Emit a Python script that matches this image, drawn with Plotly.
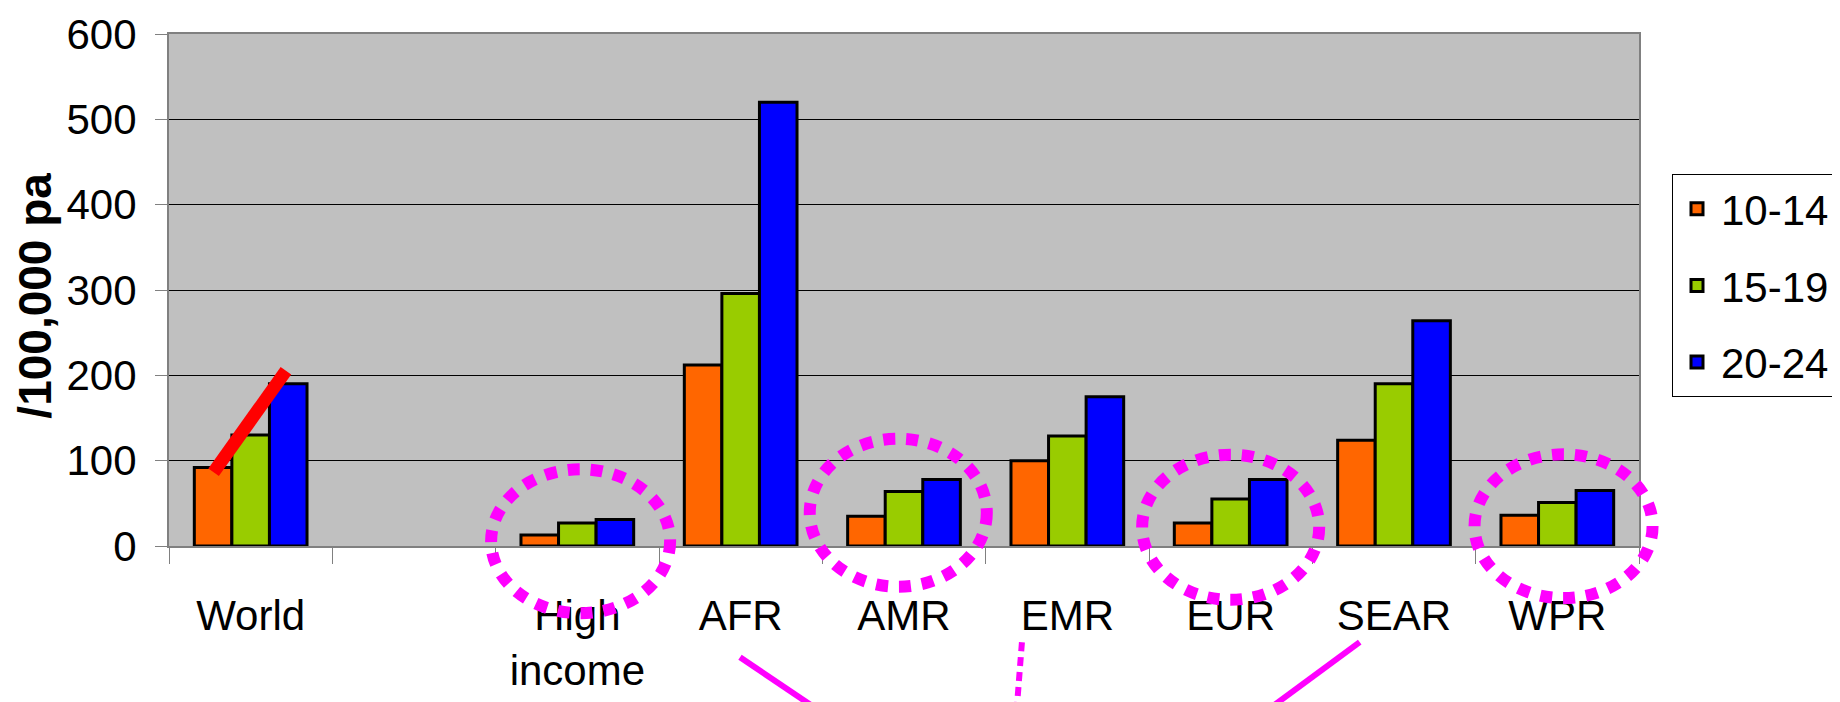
import plotly.graph_objects as go

# ---------------- data ----------------
categories = ["World", " ", "High<br>income", "AFR", "AMR", "EMR", "EUR", "SEAR", "WPR"]
age_groups = ["10-14", "15-19", "20-24"]
rate_10_14 = [92, None, 13, 212, 35, 100, 27, 124, 36]
rate_15_19 = [130, None, 27, 296, 64, 129, 55, 190, 51]
rate_20_24 = [190, None, 31, 520, 78, 175, 78, 264, 65]
y_tick_values = [0, 100, 200, 300, 400, 500, 600]
y_title = "/100,000 pa"

series = [rate_10_14, rate_15_19, rate_20_24]
bar_colors = ["#FF6600", "#99CC00", "#0000FF"]

FONT = "Liberation Sans Narrow, Arial Narrow, Liberation Sans, Arial, sans-serif"
FS = 42
X_RANGE = [-0.5, len(categories) - 0.5]
Y_RANGE = [0, 600]

# page body adds an 8px offset, margins compensate for it
ML, MR, MT, MB = 161, 209, 26, 164
PLOT_W = 1840 - ML - MR


def xp(i):
    """category index -> paper x"""
    return (i - X_RANGE[0]) / (X_RANGE[1] - X_RANGE[0])


def yp(v):
    """value -> paper y"""
    return (v - Y_RANGE[0]) / (Y_RANGE[1] - Y_RANGE[0])


fig = go.Figure()
for name, vals, col in zip(age_groups, series, bar_colors):
    fig.add_trace(go.Bar(
        x=categories, y=vals, name=name, legendgroup=name,
        marker=dict(color=col, line=dict(color="black", width=3)),
        hoverinfo="x+y+name",
    ))

# ---------------- highlight annotations ----------------
MAGENTA = "#FF00FF"
shapes = []
# dotted ellipses (category-index, value) boxes
ellipses = [(1.472, 2.568, -78.7, 89.9),
            (3.423, 4.507, -47.7, 125.7),
            (5.458, 6.542, -63.0, 107.0),
            (7.493, 8.583, -61.0, 107.5)]
for x0, x1, y0, y1 in ellipses:
    shapes.append(dict(type="circle", xref="paper", yref="paper",
                       x0=xp(x0), x1=xp(x1), y0=yp(y0), y1=yp(y1),
                       line=dict(color=MAGENTA, width=12, dash="12px,11px"),
                       layer="above"))
# red trend stroke over World
shapes.append(dict(type="line", xref="paper", yref="paper",
                   x0=xp(-0.227), y0=yp(86.4), x1=xp(0.216), y1=yp(205.3),
                   line=dict(color="#FF0000", width=13), layer="above"))
# pointer lines below the axis
shapes.append(dict(type="line", xref="paper", yref="paper",
                   x0=xp(2.996), y0=yp(-130.3), x1=xp(3.565), y1=yp(-203.8),
                   line=dict(color=MAGENTA, width=6), layer="above"))
shapes.append(dict(type="line", xref="paper", yref="paper",
                   x0=xp(4.722), y0=yp(-112.7), x1=xp(4.685), y1=yp(-204.0),
                   line=dict(color=MAGENTA, width=6, dash="9px,6px"), layer="above"))
shapes.append(dict(type="line", xref="paper", yref="paper",
                   x0=xp(6.79), y0=yp(-112.7), x1=xp(6.142), y1=yp(-204.0),
                   line=dict(color=MAGENTA, width=6), layer="above"))

fig.update_layout(
    width=1840, height=702,
    margin=dict(l=ML, r=MR, t=MT, b=MB, autoexpand=False),
    paper_bgcolor="white", plot_bgcolor="#C0C0C0",
    barmode="group", bargap=0.31, bargroupgap=0,
    font=dict(family=FONT, size=FS, color="black"),
    showlegend=True,
    legend=dict(x=(1664 - ML) / PLOT_W, y=0.7265, xanchor="left", yanchor="top",
                bgcolor="white", bordercolor="#000000", borderwidth=1,
                font=dict(family=FONT, size=FS, color="black"),
                itemwidth=38, tracegroupgap=19, traceorder="grouped"),
    xaxis=dict(type="category", range=X_RANGE, showline=True, linecolor="#808080",
               linewidth=2, mirror=True, ticks="outside", tickson="boundaries",
               ticklen=16, tickcolor="#808080", tickwidth=1, showgrid=False,
               ticklabelstandoff=32, tickfont=dict(family=FONT, size=FS, color="black")),
    yaxis=dict(range=Y_RANGE, tickvals=y_tick_values, showline=True, linecolor="#808080",
               linewidth=2, mirror=True, ticks="outside", ticklen=12, tickcolor="#808080",
               tickwidth=1, gridcolor="black", gridwidth=1, zeroline=False,
               ticklabelstandoff=10, tickfont=dict(family=FONT, size=FS, color="black")),
    shapes=shapes,
    annotations=[dict(text=y_title, textangle=-90, xref="paper", yref="paper",
                      x=(36 - 169) / PLOT_W, y=0.489, xanchor="center", yanchor="middle",
                      xshift=-1, yshift=0, showarrow=False,
                      font=dict(family="Liberation Sans, Arial, sans-serif", size=46,
                                color="black", weight="bold"))],
)

fig.write_html("out.html")
